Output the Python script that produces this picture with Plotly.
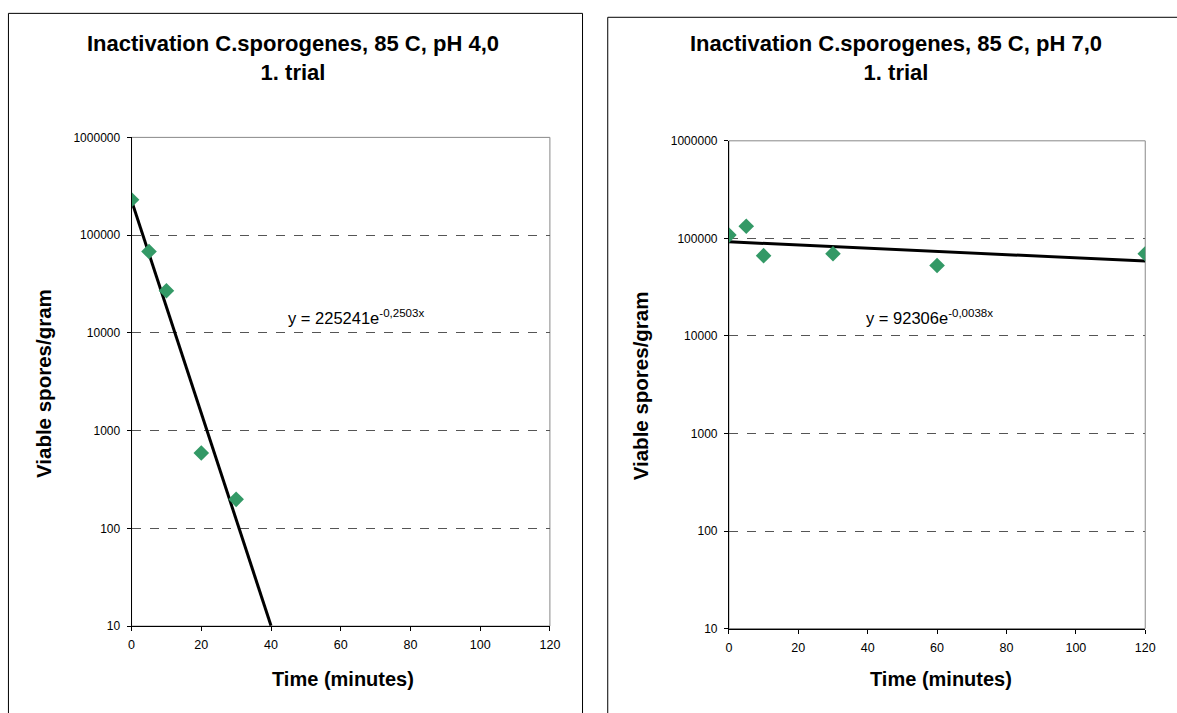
import numpy as np
import plotly.graph_objects as go

# ---- data ----
time_ph4 = [0, 5, 10, 20, 30]
spores_ph4 = [230000, 68000, 27000, 590, 198]
fit_ph4 = (225241, -0.2503)
eq_ph4 = "y = 225241e<sup>-0,2503x</sup>"

time_ph7 = [0, 5, 10, 30, 60, 120]
spores_ph7 = [108000, 133000, 66500, 69600, 52700, 69600]
fit_ph7 = (92306, -0.0038)
eq_ph7 = "y = 92306e<sup>-0,0038x</sup>"

titles = ["<b>Inactivation C.sporogenes, 85 C, pH 4,0<br>1. trial</b>",
          "<b>Inactivation C.sporogenes, 85 C, pH 7,0<br>1. trial</b>"]
ytickvals = [10, 100, 1000, 10000, 100000, 1000000]
yticktext = ["10", "100", "1000", "10000", "100000", "1000000"]
xtickvals = [0, 20, 40, 60, 80, 100, 120]

W, H = 1177, 713
FONT = "Liberation Sans, Arial, sans-serif"
GREEN = "#339966"

def px(x):
    return x / W

def py(y):
    return 1 - y / H

fig = go.Figure()

panels = [
    dict(t=time_ph4, s=spores_ph4, fit=fit_ph4, eq=eq_ph4, title=titles[0],
         dx=(130, 553), dy=(133, 631.5), xa="x", ya="y", xax="xaxis", yax="yaxis",
         frame=(5.5, 6.5, 586, 760), eqpos=(357, 316), tcx=293, ytx=41,
         xtc=344, ytc=384),
    dict(t=time_ph7, s=spores_ph7, fit=fit_ph7, eq=eq_ph7, title=titles[1],
         dx=(734, 1155), dy=(136.5, 634), xa="x2", ya="y2", xax="xaxis2", yax="yaxis2",
         frame=(611.5, 10.5, 1200, 760), eqpos=(937, 316), tcx=903, ytx=645,
         xtc=948, ytc=386),
]

for p in panels:
    a0, b0 = p["fit"]
    xs = np.linspace(0, 120, 241)
    ys = a0 * np.exp(b0 * xs)
    mask = ys >= 10
    fig.add_trace(go.Scatter(x=xs[mask], y=ys[mask], mode="lines",
                             line=dict(color="black", width=3),
                             xaxis=p["xa"], yaxis=p["ya"], showlegend=False,
                             hoverinfo="skip"))
    fig.add_trace(go.Scatter(x=p["t"], y=p["s"], mode="markers",
                             marker=dict(symbol="diamond", size=12, color=GREEN),
                             xaxis=p["xa"], yaxis=p["ya"], showlegend=False))
    fig.layout[p["xax"]] = dict(
        domain=[px(p["dx"][0]), px(p["dx"][1])], range=[0, 120],
        tickvals=xtickvals, ticks="outside", ticklen=4, tickcolor="black",
        ticklabelstandoff=3,
        showline=True, linecolor="black", linewidth=1, showgrid=False,
        zeroline=False, anchor=p["ya"],
        tickfont=dict(family=FONT, size=12.5, color="black"))
    fig.layout[p["yax"]] = dict(
        domain=[py(p["dy"][1]), py(p["dy"][0])], type="log", range=[1, 6],
        tickvals=ytickvals, ticktext=yticktext, ticks="outside", ticklen=4,
        tickcolor="black", ticklabelstandoff=4,
        showline=True, linecolor="black", linewidth=1,
        showgrid=True, gridcolor="#555555", griddash="dash", gridwidth=1,
        zeroline=False, anchor=p["xa"],
        tickfont=dict(family=FONT, size=12, color="black"))
    xr = p["xa"]
    fig.add_shape(type="rect", xref=f"{xr} domain", yref=f"{p['ya']} domain",
                  x0=0, x1=1, y0=0, y1=1, line=dict(color="#888888", width=1),
                  layer="below")
    f = p["frame"]
    fig.add_shape(type="rect", xref="paper", yref="paper",
                  x0=px(f[0]), x1=px(f[2]), y0=py(f[3]), y1=py(f[1]),
                  line=dict(color="black", width=1))
    common = dict(xref="paper", yref="paper", showarrow=False,
                  xanchor="center", yanchor="middle")
    fig.add_annotation(x=px(p["tcx"]), y=py(52), text=p["title"],
                       font=dict(family=FONT, size=22, color="black"), **common)
    fig.add_annotation(x=px(p["eqpos"][0]), y=py(p["eqpos"][1]), text=p["eq"],
                       font=dict(family=FONT, size=16.5, color="black"), **common)
    fig.add_annotation(x=px(p["xtc"]), y=py(685),
                       text="<b>Time (minutes)</b>",
                       font=dict(family=FONT, size=20, color="black"), **common)
    fig.add_annotation(x=px(p["ytx"]), y=py(p["ytc"]),
                       text="<b>Viable spores/gram</b>", textangle=-90,
                       font=dict(family=FONT, size=20.5, color="black"), **common)

fig.update_layout(width=W, height=H, margin=dict(l=0, r=0, t=0, b=0),
                  paper_bgcolor="white", plot_bgcolor="white",
                  font=dict(family=FONT))

fig.write_html("out.html")
